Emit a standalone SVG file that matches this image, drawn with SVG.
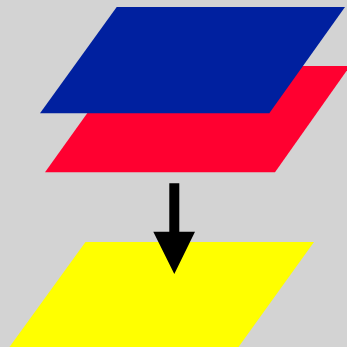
<svg xmlns="http://www.w3.org/2000/svg" width="347" height="347" viewBox="0 0 347 347">
  <style>
    .bg { fill: #d3d3d3; }
    .blue { fill: #00209f; }
    .red { fill: #ff0030; }
    .yellow { fill: #ffff00; }
    .arrow { fill: #000000; }
  </style>
  <rect class="bg" x="0" y="0" width="347" height="347"/>
  <g id="layer-yellow">
    <polygon class="yellow" points="85.5,242 314,242 238.5,347 9.5,347"/>
  </g>
  <g id="layer-red">
    <polygon class="red" points="121,66 350,66 275,172.3 45,172.3"/>
  </g>
  <g id="layer-blue">
    <polygon class="blue" points="116.7,7 345,7 269.3,113.3 40,113.3"/>
  </g>
  <g id="connectors">
    <polygon class="arrow" points="169.3,183.3 179.3,183.3 179.3,231.7 195,231.7 174.3,274 153.3,231.7 169.3,231.7"/>
  </g>
</svg>
